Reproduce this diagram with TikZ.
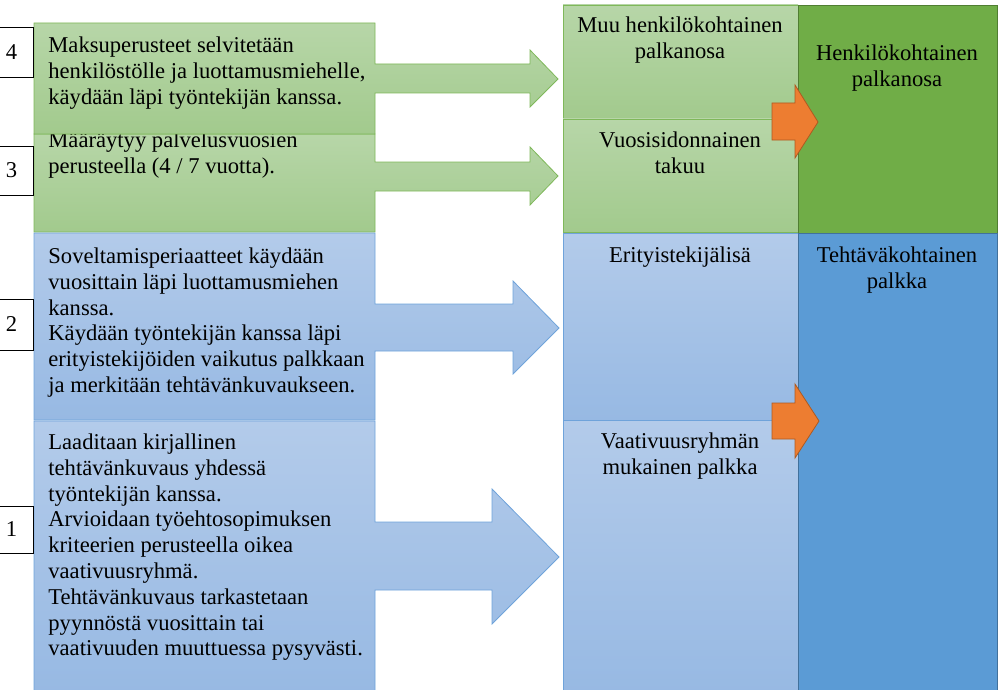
\documentclass[tikz,border=0pt]{standalone}
\usepackage{fontspec}
\setmainfont{Liberation Serif}
\usepackage{tikz}
\usepackage{xcolor}

\definecolor{gtop}{HTML}{B7D6A8}
\definecolor{gbot}{HTML}{A2CA8D}
\definecolor{gline}{HTML}{7FB85A}
\definecolor{btop}{HTML}{B3CBEA}
\definecolor{bbot}{HTML}{97B9E3}
\definecolor{bline}{HTML}{6FA3DA}
\definecolor{dgreen}{HTML}{70AD47}
\definecolor{dgline}{HTML}{507E32}
\definecolor{dblue}{HTML}{5B9BD5}
\definecolor{dbline}{HTML}{41719C}
\definecolor{orng}{HTML}{ED7D31}
\definecolor{oline}{HTML}{AE5A21}

\begin{document}
\begin{tikzpicture}[x=1pt, y=-1pt, line join=miter, line width=0.8pt,
        every node/.style={font=\fontsize{22.6}{25.8}\selectfont, inner sep=0pt},
        greenfill/.style={draw=gline, top color=gtop, bottom color=gbot},
        bluefill/.style={draw=bline, top color=btop, bottom color=bbot},
        numbox/.style={draw=black, fill=white, minimum width=43pt}]
        \useasboundingbox (0,0) rectangle (998,690);
		% middle column
		\path[greenfill] (563,5) rectangle (798,119);
		\path[greenfill] (563,119) rectangle (798,232);
		\path[bluefill] (563,233) rectangle (798,420);
		\path[bluefill] (563,420) rectangle (798,693);
		\node[anchor=north, align=center] (m4) at (680,16.4) {Muu henkilökohtainen\\palkanosa};
		\node[anchor=north, align=center] (m3) at (680,131.4) {Vuosisidonnainen\\takuu};
		\node[anchor=north, align=center] (m2) at (680,246.4) {Erityistekijälisä};
		\node[anchor=north, align=center] (m1) at (680,432.4) {Vaativuusryhmän\\mukainen palkka};
		% right column
		\path[draw=dgline, fill=dgreen] (798,5) rectangle (997,233);
		\path[draw=dbline, fill=dblue] (798,233) rectangle (997,693);
		\node[anchor=north, align=center] (r2) at (897,44.4) {Henkilökohtainen\\palkanosa};
		\node[anchor=north, align=center] (r1) at (897,246.4) {Tehtäväkohtainen\\palkka};
		% orange arrows
		\path[draw=oline, fill=orng] (772,103) -- (795,103) -- (795,85) -- (818,122)
		    -- (795,158) -- (795,140) -- (772,140) -- cycle;
		\path[draw=oline, fill=orng] (772,403) -- (795,403) -- (795,384) -- (819,421)
		    -- (795,458) -- (795,439) -- (772,439) -- cycle;
		% left column, 3 before 4
		\path[greenfill] (34,134) -- (375,134) -- (375,162) -- (530,162) -- (530,147) -- (558,176)
		    -- (530,205) -- (530,191) -- (375,191) -- (375,232) -- (34,232) -- cycle;
		\node[anchor=north west, align=left] (t3) at (48,131.4) {Määräytyy palvelusvuosien\\perusteella (4 / 7 vuotta).};
		\path[greenfill] (34,23) -- (375,23) -- (375,64) -- (530,64) -- (530,50) -- (558,79)
		    -- (530,107) -- (530,93) -- (375,93) -- (375,134) -- (34,134) -- cycle;
		\node[anchor=north west, align=left] (t4) at (48,36.4) {Maksuperusteet selvitetään\\henkilöstölle ja luottamusmiehelle,\\käydään läpi työntekijän kanssa.};
		\path[bluefill] (34,233) -- (375,233) -- (375,304) -- (513,304) -- (513,281) -- (559,328)
		    -- (513,374) -- (513,351) -- (375,351) -- (375,420) -- (34,420) -- cycle;
		\node[anchor=north west, align=left] (t2) at (48,247.4) {Soveltamisperiaatteet käydään\\vuosittain läpi luottamusmiehen\\kanssa.\\Käydään työntekijän kanssa läpi\\erityistekijöiden vaikutus palkkaan\\ja merkitään tehtävänkuvaukseen.};
		\path[bluefill] (34,421) -- (375,421) -- (375,522) -- (492,522) -- (492,489) -- (559,557)
		    -- (492,624) -- (492,590) -- (375,590) -- (375,693) -- (34,693) -- cycle;
		\node[anchor=north west, align=left] (t1) at (48,433.4) {Laaditaan kirjallinen\\tehtävänkuvaus yhdessä\\työntekijän kanssa.\\Arvioidaan työehtosopimuksen\\kriteerien perusteella oikea\\vaativuusryhmä.\\Tehtävänkuvaus tarkastetaan\\pyynnöstä vuosittain tai\\vaativuuden muuttuessa pysyvästi.};
		% number boxes
		\node[numbox, minimum height=50pt] (k4) at (11.5,52) {4};
		\node[numbox, minimum height=49pt] (k3) at (11.5,170.5) {3};
		\node[numbox, minimum height=51pt] (k2) at (11.5,324.5) {2};
		\node[numbox, minimum height=47pt] (k1) at (11.5,529.5) {1};
    \end{tikzpicture}
\end{document}
